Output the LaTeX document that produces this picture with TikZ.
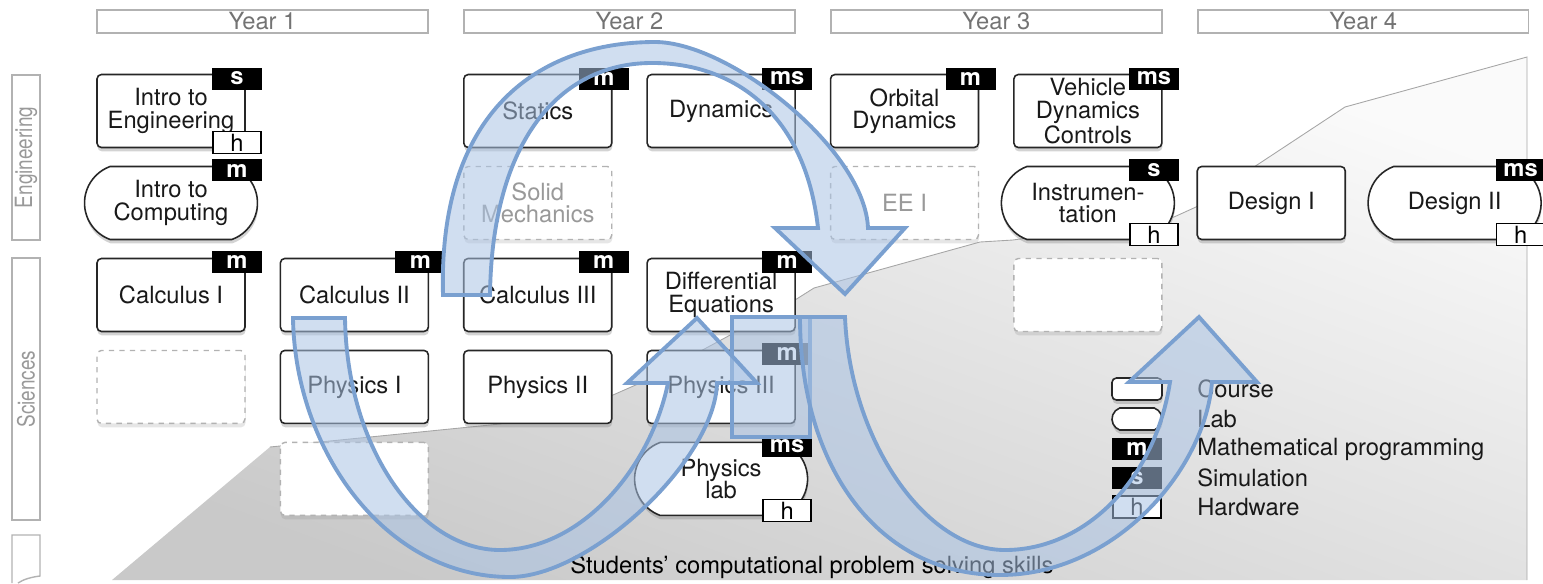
\documentclass[tikz,border=0pt]{standalone}
\usepackage{fontspec}
\setmainfont{TeX Gyre Heros}
\usetikzlibrary{shapes.misc, shadows, calc}

\definecolor{arrowfill}{RGB}{170,195,228}
\definecolor{arrowline}{RGB}{122,160,208}

\begin{document}
\begin{tikzpicture}[x=0.02cm, y=-0.02cm, node distance=3.668cm,
    font=\fontsize{13.5}{12.8}\selectfont]
\tikzstyle{course} = [rectangle, draw=black!85, line width=0.9pt, fill=white,
    rounded corners=2.5pt, minimum width=2.96cm, minimum height=1.46cm,
    align=center, inner sep=0pt, text=black!90,
    drop shadow={shadow xshift=0.3pt, shadow yshift=-2.2pt, opacity=0.35}]
\tikzstyle{lab} = [rounded rectangle, rounded rectangle arc length=140,
    draw=black!85, line width=0.9pt, fill=white, minimum width=3.46cm,
    minimum height=1.46cm, align=center, inner sep=0pt, text=black!90,
    drop shadow={shadow xshift=0.3pt, shadow yshift=-2.2pt, opacity=0.35}]
\tikzstyle{slot} = [rectangle, draw=black!30, dashed, line width=0.8pt,
    fill=white, rounded corners=2.5pt, minimum width=2.96cm,
    minimum height=1.46cm, align=center, inner sep=0pt, text=black!40,
    drop shadow={shadow xshift=0.3pt, shadow yshift=-2.2pt, opacity=0.2}]
\tikzstyle{tag} = [rectangle, fill=black, text=white, inner sep=0pt,
    font=\fontsize{13.5}{14}\selectfont\bfseries,
    minimum width=1cm, minimum height=0.44cm]
\tikzstyle{hw} = [rectangle, draw=black, line width=0.8pt, fill=white,
    inner sep=0pt, minimum width=0.96cm, minimum height=0.44cm]
\tikzstyle{year} = [rectangle, draw=black!30, line width=0.8pt, text=black!55,
    minimum width=6.62cm, minimum height=0.46cm, inner sep=0pt]
\tikzstyle{side} = [rectangle, draw=black!30, line width=0.8pt, text=black!40,
    rotate=90, minimum height=0.56cm, inner sep=0pt]
\tikzstyle{key} = [anchor=west, text=black!90, inner sep=0pt]
\tikzstyle{band} = [draw=arrowline, line width=2.2pt, fill=arrowfill,
    fill opacity=0.55]

\useasboundingbox (0,0) rectangle (1543,583);

% skills area behind the courses
\shade [top color=black!2, bottom color=black!21, shading angle=-20]
    (112,580) -- (270,447)
    -- (500,424) -- (613,395) -- (647,380) -- (795,300) -- (814,288)
    -- (980,242) -- (1013,240) -- (1174,217) -- (1196,207) -- (1257,165)
    -- (1345,107) -- (1527,57) -- (1527,580) -- cycle;
\draw [black!35, line width=0.5pt] (270,447) -- (500,424) -- (613,395)
    -- (647,380) -- (795,300) -- (814,288) -- (980,242) -- (1013,240)
    -- (1174,217) -- (1196,207) -- (1257,165) -- (1345,107) -- (1527,57)
    -- (1527,580);
\node (skills) at (812,567) {Students' computational problem solving skills};

% year headers
\node [year] (yearone) at (262.5,21.5) {Year 1};
\node [year, right of=yearone, node distance=7.34cm] (yeartwo) {Year 2};
\node [year, right of=yeartwo, node distance=7.34cm] (yearthree) {Year 3};
\node [year, right of=yearthree, node distance=7.34cm] (yearfour) {Year 4};

% row labels
\node [side, minimum width=3.3cm] (engside) at (26,157.5)
    {\scalebox{0.8}[1]{Engineering}};
\node [side, minimum width=5.24cm] (sciside) at (26,389)
    {\scalebox{0.8}[1]{Sciences}};
\draw [black!30, line width=0.8pt] (12,583) -- (12,535) -- (40,535)
    -- (40,576) .. controls (32,577) and (24,579) .. (18,583);

% engineering courses
\node [course] (introeng) at (171,111) {Intro to\\Engineering};
\node [course] (statics) at (537.8,111) {Statics};
\node [course, right of=statics] (dyn) {Dynamics};
\node [course, right of=dyn] (orbital) {Orbital\\Dynamics};
\node [course, right of=orbital] (vehicle) {Vehicle\\Dynamics\\Controls};

\node [lab, below of=introeng, node distance=1.84cm] (introcomp) {Intro to\\Computing};
\node [slot, below of=statics, node distance=1.84cm] (solid) {Solid\\Mechanics};
\node [slot, below of=orbital, node distance=1.84cm] (eeone) {EE I};
\node [lab, below of=vehicle, node distance=1.84cm] (instr) {Instrumen-\\tation};
\node [course, right of=instr] (designI) {Design I};
\node [lab, right of=designI] (designII) {Design II};

% science courses
\node [course, below of=introcomp, node distance=1.84cm] (calcI) {Calculus I};
\node [course, right of=calcI] (calcII) {Calculus II};
\node [course, right of=calcII] (calcIII) {Calculus III};
\node [course, right of=calcIII] (diffeq) {Differential\\Equations};
\node [slot, below of=instr, node distance=1.84cm] (engblank) {};

\node [slot, below of=calcI, node distance=1.84cm] (sciblank) {};
\node [course, below of=calcII, node distance=1.84cm] (physI) {Physics I};
\node [course, below of=calcIII, node distance=1.84cm] (physII) {Physics II};
\node [course, below of=diffeq, node distance=1.84cm] (physIII) {Physics III};

\node [slot, below of=physI, node distance=1.84cm] (physblank) {};
\node [lab, below of=physIII, node distance=1.84cm] (physlab) {Physics\\lab};

% m / s / h markers
\node [tag] (introengs) at ($(introeng)+(66,-32.5)$) {s};
\node [hw] (introengh) at ($(introeng)+(66,31.5)$) {h};
\node [tag] (introcompm) at ($(introcomp)+(66,-32.5)$) {m};
\node [tag] (staticsm) at ($(statics)+(66,-32.5)$) {m};
\node [tag] (dynms) at ($(dyn)+(66,-32.5)$) {ms};
\node [tag] (orbitalm) at ($(orbital)+(66,-32.5)$) {m};
\node [tag] (vehiclems) at ($(vehicle)+(66,-32.5)$) {ms};
\node [tag] (instrs) at ($(instr)+(66,-32.5)$) {s};
\node [hw] (instrh) at ($(instr)+(66,31.5)$) {h};
\node [tag] (designIIms) at ($(designII)+(66,-32.5)$) {ms};
\node [hw] (designIIh) at ($(designII)+(66,31.5)$) {h};
\node [tag] (calcIm) at ($(calcI)+(66,-32.5)$) {m};
\node [tag] (calcIIm) at ($(calcII)+(66,-32.5)$) {m};
\node [tag] (calcIIIm) at ($(calcIII)+(66,-32.5)$) {m};
\node [tag] (diffeqm) at ($(diffeq)+(66,-32.5)$) {m};
\node [tag] (physIIIm) at ($(physIII)+(66,-32.5)$) {m};
\node [tag] (physlabms) at ($(physlab)+(66,-32.5)$) {ms};
\node [hw] (physlabh) at ($(physlab)+(66,31.5)$) {h};

% legend
\node [course, minimum width=1cm, minimum height=0.44cm] (keycourse) at (1137,389) {};
\node [lab, minimum width=1cm, minimum height=0.44cm, below of=keycourse, node distance=0.6cm] (keylab) {};
\node [tag, below of=keylab, node distance=0.6cm] (keym) {m};
\node [tag, below of=keym, node distance=0.58cm] (keys) {s};
\node [hw, below of=keys, node distance=0.58cm] (keyh) {h};
\node [right of=keycourse, node distance=1.2cm, key] (keycoursetext) {Course};
\node [right of=keylab, node distance=1.2cm, key] (keylabtext) {Lab};
\node [right of=keym, node distance=1.2cm, key] (keymtext) {Mathematical programming};
\node [right of=keys, node distance=1.2cm, key] (keystext) {Simulation};
\node [right of=keyh, node distance=1.2cm, key] (keyhtext) {Hardware};

% curved arrows on top
\draw [band] (732,317) rectangle (810,437);
\draw [band] (443,295) .. controls (438,110) and (540,42) .. (655,42)
    .. controls (730,42) and (865,150) .. (868,228) -- (905,228) -- (845,294)
    -- (775,228) -- (818,228) .. controls (805,110) and (730,62) .. (650,63)
    .. controls (560,64) and (492,140) .. (490,295) -- cycle;
\draw [band] (293,318) .. controls (295,450) and (385,577) .. (510,577)
    .. controls (590,577) and (715,460) .. (717,383) -- (757,383) -- (697,318)
    -- (627,383) -- (668,383) .. controls (650,470) and (580,550) .. (500,550)
    .. controls (420,550) and (347,450) .. (345,318) -- cycle;
\draw [band] (800,317) .. controls (800,470) and (880,575) .. (1000,575)
    .. controls (1115,575) and (1205,470) .. (1212,382) -- (1257,382)
    -- (1199,317) -- (1129,382) -- (1170,382) .. controls (1155,480)
    and (1085,550) .. (1005,550) .. controls (925,550) and (850,440)
    .. (845,317) -- cycle;
\end{tikzpicture}
\end{document}
